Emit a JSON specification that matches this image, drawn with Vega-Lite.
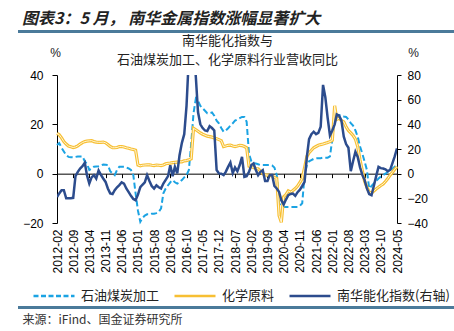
{
"$schema": "https://vega.github.io/schema/vega-lite/v6.json",
"autosize": {"type": "none"},
"width": 340,
"height": 148,
"padding": {"left": 57, "top": 75, "right": 57, "bottom": 108},
"background": "white",
"config": {
  "view": {"stroke": null},
  "font": "Noto Sans CJK SC",
  "axis": {"grid": false, "labelFont": "Liberation Sans", "labelFontSize": 12, "labelColor": "#000000", "domainColor": "#000000", "tickColor": "#000000", "domainWidth": 1, "tickWidth": 1, "titleFont": "Noto Sans CJK SC", "titleFontWeight": "normal", "titleColor": "#222222"},
  "legend": {"orient": "none", "legendX": -25, "legendY": 199, "direction": "horizontal", "columns": 3, "symbolType": "stroke", "symbolSize": 1681, "symbolStrokeWidth": 2.5, "labelFontSize": 13, "labelFont": "Noto Sans CJK SC", "labelColor": "#222222", "labelOffset": 5, "columnPadding": 9, "padding": 0}
},
"title": {"text": "图表3：5 月， 南华金属指数涨幅显著扩大", "anchor": "start", "frame": "group", "dx": -35, "offset": 4, "fontSize": 16, "fontWeight": "bold", "fontStyle": "italic", "color": "#222222", "font": "Noto Sans CJK SC"},
"data": {"values": [
{"month":"2012-02","oil":11.6,"chem":16.3,"nanhua":-19},
{"month":"2012-03","oil":12.4,"chem":15.8,"nanhua":-16},
{"month":"2012-04","oil":10.5,"chem":14.5,"nanhua":-13.4},
{"month":"2012-05","oil":9.0,"chem":13.0,"nanhua":-13.4},
{"month":"2012-06","oil":7.5,"chem":12.0,"nanhua":-20},
{"month":"2012-07","oil":6.8,"chem":11.2,"nanhua":-20},
{"month":"2012-08","oil":6.7,"chem":10.9,"nanhua":-20},
{"month":"2012-09","oil":6.6,"chem":10.6,"nanhua":-19.6},
{"month":"2012-10","oil":6.8,"chem":10.8,"nanhua":-2},
{"month":"2012-11","oil":7.0,"chem":11.3,"nanhua":1.5},
{"month":"2012-12","oil":7.0,"chem":12.0,"nanhua":4.2},
{"month":"2013-01","oil":7.0,"chem":12.6,"nanhua":6.0},
{"month":"2013-02","oil":5.0,"chem":13.0,"nanhua":8.8},
{"month":"2013-03","oil":4.0,"chem":13.2,"nanhua":-1.2},
{"month":"2013-04","oil":1.5,"chem":13.3,"nanhua":-8.0},
{"month":"2013-05","oil":2.0,"chem":13.4,"nanhua":-3.0},
{"month":"2013-06","oil":2.8,"chem":13.0,"nanhua":-1.2},
{"month":"2013-07","oil":2.9,"chem":12.8,"nanhua":-4.0},
{"month":"2013-08","oil":3.0,"chem":12.7,"nanhua":2.6},
{"month":"2013-09","oil":3.3,"chem":12.7,"nanhua":-1.0},
{"month":"2013-10","oil":3.7,"chem":12.8,"nanhua":-3.9},
{"month":"2013-11","oil":3.6,"chem":12.5,"nanhua":-6.7},
{"month":"2013-12","oil":3.5,"chem":11.8,"nanhua":-12.0},
{"month":"2014-01","oil":1.0,"chem":11.0,"nanhua":-16.0},
{"month":"2014-02","oil":0.0,"chem":10.5,"nanhua":-16.5},
{"month":"2014-03","oil":-0.6,"chem":10.5,"nanhua":-13.4},
{"month":"2014-04","oil":1.5,"chem":10.6,"nanhua":-11.0},
{"month":"2014-05","oil":2.8,"chem":11.0,"nanhua":-9.3},
{"month":"2014-06","oil":2.8,"chem":11.0,"nanhua":-7.0},
{"month":"2014-07","oil":2.8,"chem":10.8,"nanhua":-8.0},
{"month":"2014-08","oil":2.5,"chem":10.5,"nanhua":-12.0},
{"month":"2014-09","oil":2.1,"chem":10.3,"nanhua":-15.0},
{"month":"2014-10","oil":1.5,"chem":10.0,"nanhua":-18.0},
{"month":"2014-11","oil":-0.6,"chem":9.8,"nanhua":-20.5},
{"month":"2014-12","oil":-8.0,"chem":9.5,"nanhua":-21.5},
{"month":"2015-01","oil":-15.0,"chem":3.5,"nanhua":-17.0},
{"month":"2015-02","oil":-19.5,"chem":3.2,"nanhua":-11.0},
{"month":"2015-03","oil":-18.0,"chem":3.4,"nanhua":-9.0},
{"month":"2015-04","oil":-17.0,"chem":3.5,"nanhua":-7.0},
{"month":"2015-05","oil":-16.5,"chem":3.6,"nanhua":-1.2},
{"month":"2015-06","oil":-16.5,"chem":3.6,"nanhua":-6.0},
{"month":"2015-07","oil":-16.2,"chem":3.4,"nanhua":-10.0},
{"month":"2015-08","oil":-16.2,"chem":3.3,"nanhua":-12.0},
{"month":"2015-09","oil":-16.0,"chem":3.5,"nanhua":-9.5},
{"month":"2015-10","oil":-15.5,"chem":3.4,"nanhua":-11.0},
{"month":"2015-11","oil":-14.1,"chem":3.3,"nanhua":-12.0},
{"month":"2015-12","oil":-8.0,"chem":3.5,"nanhua":-8.0},
{"month":"2016-01","oil":-6.0,"chem":4.0,"nanhua":-5.0},
{"month":"2016-02","oil":-4.7,"chem":4.2,"nanhua":-2.0},
{"month":"2016-03","oil":-3.5,"chem":4.3,"nanhua":6.9},
{"month":"2016-04","oil":-2.6,"chem":4.5,"nanhua":-2.0},
{"month":"2016-05","oil":-3.5,"chem":4.6,"nanhua":5.5},
{"month":"2016-06","oil":-4.0,"chem":4.7,"nanhua":0.2},
{"month":"2016-07","oil":-3.5,"chem":4.8,"nanhua":15.0},
{"month":"2016-08","oil":-2.6,"chem":4.8,"nanhua":25.0},
{"month":"2016-09","oil":-1.5,"chem":5.2,"nanhua":32.0},
{"month":"2016-10","oil":-0.6,"chem":5.3,"nanhua":55.0},
{"month":"2016-11","oil":1.5,"chem":5.6,"nanhua":95.0},
{"month":"2016-12","oil":12.0,"chem":6.0,"nanhua":110.0},
{"month":"2017-01","oil":24.5,"chem":18.4,"nanhua":105.0},
{"month":"2017-02","oil":30.5,"chem":17.8,"nanhua":78.0},
{"month":"2017-03","oil":29.5,"chem":17.2,"nanhua":50.0},
{"month":"2017-04","oil":27.5,"chem":16.5,"nanhua":40.0},
{"month":"2017-05","oil":26.5,"chem":16.0,"nanhua":37.0},
{"month":"2017-06","oil":25.5,"chem":15.6,"nanhua":35.0},
{"month":"2017-07","oil":24.5,"chem":15.2,"nanhua":34.5},
{"month":"2017-08","oil":24.5,"chem":15.0,"nanhua":38.5},
{"month":"2017-09","oil":24.8,"chem":14.8,"nanhua":37.0},
{"month":"2017-10","oil":23.5,"chem":14.5,"nanhua":35.0},
{"month":"2017-11","oil":21.5,"chem":14.2,"nanhua":3.0},
{"month":"2017-12","oil":20.4,"chem":13.8,"nanhua":0.2},
{"month":"2018-01","oil":18.5,"chem":13.4,"nanhua":0.0},
{"month":"2018-02","oil":17.0,"chem":11.0,"nanhua":-1.2},
{"month":"2018-03","oil":17.5,"chem":11.2,"nanhua":1.5},
{"month":"2018-04","oil":18.4,"chem":11.5,"nanhua":5.5},
{"month":"2018-05","oil":19.5,"chem":11.6,"nanhua":9.0},
{"month":"2018-06","oil":20.4,"chem":11.2,"nanhua":0.5},
{"month":"2018-07","oil":21.5,"chem":11.0,"nanhua":5.0},
{"month":"2018-08","oil":22.0,"chem":11.2,"nanhua":2.0},
{"month":"2018-09","oil":22.5,"chem":11.5,"nanhua":7.0},
{"month":"2018-10","oil":23.0,"chem":11.4,"nanhua":13.6},
{"month":"2018-11","oil":23.0,"chem":11.0,"nanhua":-2.6},
{"month":"2018-12","oil":21.0,"chem":10.5,"nanhua":-2.0},
{"month":"2019-01","oil":8.0,"chem":3.0,"nanhua":1.5},
{"month":"2019-02","oil":5.0,"chem":2.8,"nanhua":7.0},
{"month":"2019-03","oil":4.5,"chem":2.5,"nanhua":8.3},
{"month":"2019-04","oil":4.1,"chem":2.1,"nanhua":3.0},
{"month":"2019-05","oil":3.8,"chem":2.0,"nanhua":-1.2},
{"month":"2019-06","oil":3.5,"chem":1.0,"nanhua":1.5},
{"month":"2019-07","oil":3.5,"chem":0.0,"nanhua":2.8},
{"month":"2019-08","oil":3.5,"chem":-0.5,"nanhua":-6.0},
{"month":"2019-09","oil":3.5,"chem":-0.6,"nanhua":-6.0},
{"month":"2019-10","oil":3.5,"chem":-0.6,"nanhua":-1.0},
{"month":"2019-11","oil":3.3,"chem":-1.0,"nanhua":-1.0},
{"month":"2019-12","oil":2.5,"chem":-1.5,"nanhua":-10.0},
{"month":"2020-01","oil":-0.6,"chem":-2.0,"nanhua":-12.0},
{"month":"2020-02","oil":-12.0,"chem":-17.0,"nanhua":-14.8},
{"month":"2020-03","oil":-13.5,"chem":-19.7,"nanhua":-21.5},
{"month":"2020-04","oil":-13.5,"chem":-9.4,"nanhua":-25.0},
{"month":"2020-05","oil":-13.5,"chem":-8.5,"nanhua":-21.0},
{"month":"2020-06","oil":-13.5,"chem":-7.0,"nanhua":-17.5},
{"month":"2020-07","oil":-13.5,"chem":-7.5,"nanhua":-16.5},
{"month":"2020-08","oil":-13.5,"chem":-6.8,"nanhua":-16.1},
{"month":"2020-09","oil":-13.5,"chem":-6.0,"nanhua":-18.0},
{"month":"2020-10","oil":-13.5,"chem":-5.0,"nanhua":-15.0},
{"month":"2020-11","oil":-13.0,"chem":-3.5,"nanhua":-13.0},
{"month":"2020-12","oil":-12.0,"chem":-2.0,"nanhua":-10.0},
{"month":"2021-01","oil":-0.6,"chem":2.5,"nanhua":-6.7},
{"month":"2021-02","oil":3.5,"chem":7.0,"nanhua":14.0},
{"month":"2021-03","oil":5.0,"chem":8.5,"nanhua":28.0},
{"month":"2021-04","oil":5.5,"chem":9.5,"nanhua":32.0},
{"month":"2021-05","oil":6.0,"chem":10.5,"nanhua":34.0},
{"month":"2021-06","oil":6.2,"chem":11.0,"nanhua":32.0},
{"month":"2021-07","oil":6.3,"chem":11.5,"nanhua":33.0},
{"month":"2021-08","oil":6.3,"chem":11.8,"nanhua":38.0},
{"month":"2021-09","oil":6.5,"chem":12.0,"nanhua":72.0},
{"month":"2021-10","oil":6.5,"chem":12.3,"nanhua":62.0},
{"month":"2021-11","oil":6.5,"chem":12.6,"nanhua":45.0},
{"month":"2021-12","oil":7.0,"chem":13.0,"nanhua":31.0},
{"month":"2022-01","oil":14.0,"chem":13.5,"nanhua":35.0},
{"month":"2022-02","oil":23.0,"chem":27.5,"nanhua":40.0},
{"month":"2022-03","oil":23.5,"chem":22.0,"nanhua":48.0},
{"month":"2022-04","oil":23.8,"chem":22.5,"nanhua":47.0},
{"month":"2022-05","oil":23.5,"chem":21.5,"nanhua":43.0},
{"month":"2022-06","oil":23.2,"chem":21.0,"nanhua":30.0},
{"month":"2022-07","oil":23.0,"chem":19.0,"nanhua":24.0},
{"month":"2022-08","oil":22.0,"chem":17.5,"nanhua":21.0},
{"month":"2022-09","oil":20.5,"chem":16.5,"nanhua":2.0},
{"month":"2022-10","oil":19.5,"chem":15.5,"nanhua":10.0},
{"month":"2022-11","oil":17.5,"chem":14.0,"nanhua":17.7},
{"month":"2022-12","oil":15.0,"chem":11.0,"nanhua":13.6},
{"month":"2023-01","oil":11.0,"chem":5.5,"nanhua":5.0},
{"month":"2023-02","oil":8.0,"chem":1.0,"nanhua":-1.2},
{"month":"2023-03","oil":5.0,"chem":-3.0,"nanhua":-5.0},
{"month":"2023-04","oil":1.5,"chem":-5.5,"nanhua":-12.0},
{"month":"2023-05","oil":-6.0,"chem":-7.5,"nanhua":-16.5},
{"month":"2023-06","oil":-5.0,"chem":-7.8,"nanhua":-17.5},
{"month":"2023-07","oil":-4.0,"chem":-7.0,"nanhua":-10.0},
{"month":"2023-08","oil":-3.0,"chem":-6.2,"nanhua":-2.0},
{"month":"2023-09","oil":-2.0,"chem":-5.5,"nanhua":5.5},
{"month":"2023-10","oil":-1.2,"chem":-4.8,"nanhua":4.5},
{"month":"2023-11","oil":-0.6,"chem":-4.2,"nanhua":4.2},
{"month":"2023-12","oil":0.0,"chem":-3.2,"nanhua":3.5},
{"month":"2024-01","oil":0.8,"chem":-2.0,"nanhua":2.0},
{"month":"2024-02","oil":1.4,"chem":-0.6,"nanhua":3.0},
{"month":"2024-03","oil":2.0,"chem":0.5,"nanhua":8.3},
{"month":"2024-04","oil":2.8,"chem":1.8,"nanhua":14.0},
{"month":"2024-05","oil":3.5,"chem":2.8,"nanhua":20.5}
]},
"layer": [
  {
    "encoding": {
      "x": {"field": "month", "type": "temporal",
        "scale": {"type": "utc", "domain": [{"year": 2012, "month": 2, "date": 1, "utc": true}, {"year": 2024, "month": 5, "date": 1, "utc": true}]},
        "axis": {"orient": "bottom", "offset": -49.33, "format": "%Y-%m", "labelAngle": -90, "labelPadding": 51.3, "tickSize": 4, "labelOverlap": false, "labelFlush": false,
          "values": [
            {"year": 2012, "month": 2, "date": 1, "utc": true}, {"year": 2012, "month": 9, "date": 1, "utc": true},
            {"year": 2013, "month": 4, "date": 1, "utc": true}, {"year": 2013, "month": 11, "date": 1, "utc": true},
            {"year": 2014, "month": 6, "date": 1, "utc": true}, {"year": 2015, "month": 1, "date": 1, "utc": true},
            {"year": 2015, "month": 8, "date": 1, "utc": true}, {"year": 2016, "month": 3, "date": 1, "utc": true},
            {"year": 2016, "month": 10, "date": 1, "utc": true}, {"year": 2017, "month": 5, "date": 1, "utc": true},
            {"year": 2017, "month": 12, "date": 1, "utc": true}, {"year": 2018, "month": 7, "date": 1, "utc": true},
            {"year": 2019, "month": 2, "date": 1, "utc": true}, {"year": 2019, "month": 9, "date": 1, "utc": true},
            {"year": 2020, "month": 4, "date": 1, "utc": true}, {"year": 2020, "month": 11, "date": 1, "utc": true},
            {"year": 2021, "month": 6, "date": 1, "utc": true}, {"year": 2022, "month": 1, "date": 1, "utc": true},
            {"year": 2022, "month": 8, "date": 1, "utc": true}, {"year": 2023, "month": 3, "date": 1, "utc": true},
            {"year": 2023, "month": 10, "date": 1, "utc": true}, {"year": 2024, "month": 5, "date": 1, "utc": true}
          ],
          "title": "来源：iFind、国金证券研究所", "titleX": -35, "titleY": 146, "titleAlign": "left", "titleBaseline": "middle", "titleFontSize": 12, "titleColor": "#333333"}
      }
    },
    "layer": [
      {"mark": {"type": "rule", "clip": false, "color": "#4B7B9A", "strokeWidth": 2},
       "encoding": {
         "x": {"datum": {"year": 2010, "month": 9, "date": 6, "utc": true}, "type": "temporal"},
         "x2": {"datum": {"year": 2026, "month": 12, "date": 1, "utc": true}},
         "y": {"datum": 57.6, "type": "quantitative", "scale": {"domain": [-20, 40]}}
       }},
      {"mark": {"type": "rule", "clip": false, "color": "#4B7B9A", "strokeWidth": 2},
       "encoding": {
         "x": {"datum": {"year": 2010, "month": 9, "date": 6, "utc": true}, "type": "temporal"},
         "x2": {"datum": {"year": 2026, "month": 12, "date": 1, "utc": true}},
         "y": {"datum": -54.3, "type": "quantitative", "scale": {"domain": [-20, 40]}}
       }},
      {"mark": {"type": "line", "strokeWidth": 2, "strokeDash": [6, 3]},
       "encoding": {
         "y": {"field": "oil", "type": "quantitative", "scale": {"domain": [-20, 40]},
           "axis": {"values": [-20, -10, 0, 10, 20, 30, 40], "title": "%", "titleAngle": 0, "titleX": -2, "titleY": -23, "titleAlign": "center", "titleBaseline": "middle", "titleFontSize": 12, "titleFont": "Liberation Sans", "tickSize": 5, "labelPadding": 9}},
         "color": {"datum": "石油煤炭加工", "type": "nominal",
           "scale": {"domain": ["石油煤炭加工", "化学原料", "南华能化指数(右轴)"], "range": ["#1BA3E3", "#F7BF33", "#2C4C8D"]},
           "legend": {"title": null, "encode": {"symbols": {"update": {"strokeDash": {"signal": "datum.value === '石油煤炭加工' ? [5, 2.5] : [1, 0]"}}}}}}
       }},
      {"mark": {"type": "line", "strokeWidth": 3.2},
       "encoding": {
         "y": {"field": "chem", "type": "quantitative", "scale": {"domain": [-20, 40]}},
         "color": {"datum": "化学原料", "type": "nominal"}
       }},
      {"mark": {"type": "line", "strokeWidth": 1, "color": "#FFF6D8"},
       "encoding": {
         "y": {"field": "chem", "type": "quantitative", "scale": {"domain": [-20, 40]}}
       }}
    ]
  },
  {
    "mark": {"type": "line", "strokeWidth": 2.5, "clip": true},
    "encoding": {
      "x": {"field": "month", "type": "temporal",
        "axis": {"orient": "top", "domain": false, "ticks": false, "labels": false,
          "title": ["南华能化指数与", "石油煤炭加工、化学原料行业营收同比"], "titleX": 170, "titleY": -41, "titleAlign": "center", "titleBaseline": "top", "titleFontSize": 13, "titleLineHeight": 19}},
      "y": {"field": "nanhua", "type": "quantitative", "scale": {"domain": [-40, 80]},
        "axis": {"orient": "right", "values": [-40, -20, 0, 20, 40, 60, 80], "title": "%", "titleAngle": 0, "titleX": 16, "titleY": -23, "titleAlign": "center", "titleBaseline": "middle", "titleFontSize": 12, "titleFont": "Liberation Sans", "tickSize": 4, "labelPadding": 6}},
      "color": {"datum": "南华能化指数(右轴)", "type": "nominal"}
    }
  }
],
"resolve": {"scale": {"y": "independent"}, "axis": {"x": "independent"}}
}
